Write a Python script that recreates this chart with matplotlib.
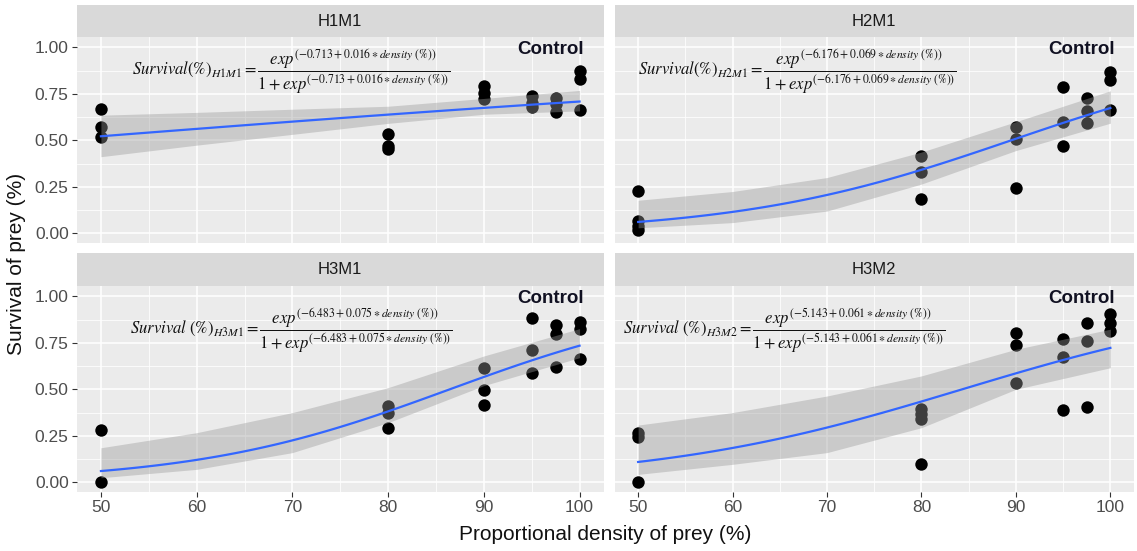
import numpy as np
import matplotlib
matplotlib.use("Agg")
import matplotlib.pyplot as plt

plt.rcParams['font.family'] = ['Liberation Sans', 'DejaVu Sans']
plt.rcParams['mathtext.fontset'] = 'stix'

# ---------------- data ----------------
panels = ["H1M1", "H2M1", "H3M1", "H3M2"]

h1m1_x = [50, 50, 50, 80, 80, 80, 90, 90, 90, 95, 95, 95, 97.5, 97.5, 97.5, 100, 100, 100]
h1m1_y = [0.67, 0.57, 0.52, 0.535, 0.47, 0.455, 0.79, 0.755, 0.72, 0.74, 0.70, 0.68,
          0.73, 0.695, 0.65, 0.87, 0.83, 0.665]

h2m1_x = [50, 50, 50, 50, 80, 80, 80, 90, 90, 90, 95, 95, 95, 97.5, 97.5, 97.5, 100, 100, 100]
h2m1_y = [0.23, 0.065, 0.04, 0.02, 0.414, 0.33, 0.187, 0.57, 0.508, 0.244, 0.788, 0.60, 0.472,
          0.727, 0.66, 0.592, 0.868, 0.825, 0.665]

h3m1_x = [50, 50, 80, 80, 80, 90, 90, 90, 95, 95, 95, 97.5, 97.5, 97.5, 100, 100, 100]
h3m1_y = [0.28, 0.0, 0.41, 0.375, 0.294, 0.616, 0.496, 0.416, 0.882, 0.711, 0.59,
          0.844, 0.796, 0.622, 0.864, 0.823, 0.661]

h3m2_x = [50, 50, 50, 80, 80, 80, 80, 90, 90, 90, 95, 95, 95, 97.5, 97.5, 97.5, 100, 100, 100]
h3m2_y = [0.267, 0.245, 0.0, 0.392, 0.366, 0.339, 0.097, 0.805, 0.737, 0.532, 0.772, 0.674, 0.389,
          0.858, 0.76, 0.407, 0.903, 0.858, 0.814]

# fitted logistic coefficients (as printed in the equations)
intercepts = [-0.713, -6.176, -6.483, -5.143]
slopes = [0.016, 0.069, 0.075, 0.061]

# confidence ribbon
ribbon_x = [50, 60, 70, 80, 90, 100]
h1m1_lo = [0.412, 0.474, 0.532, 0.591, 0.640, 0.658]
h1m1_hi = [0.635, 0.650, 0.667, 0.683, 0.725, 0.768]
h2m1_lo = [0.030, 0.058, 0.120, 0.265, 0.445, 0.592]
h2m1_hi = [0.178, 0.225, 0.300, 0.437, 0.600, 0.766]
h3m1_lo = [0.025, 0.070, 0.160, 0.321, 0.520, 0.670]
h3m1_hi = [0.186, 0.267, 0.375, 0.509, 0.679, 0.826]
h3m2_lo = [0.043, 0.097, 0.160, 0.294, 0.500, 0.616]
h3m2_hi = [0.308, 0.375, 0.464, 0.572, 0.715, 0.823]

equations = [
    r"$Survival(\%)_{H1M1}=\dfrac{exp^{(-0.713+0.016\ast density\ (\%))}}{1+exp^{(-0.713+0.016\ast density\ (\%))}}$",
    r"$Survival(\%)_{H2M1}=\dfrac{exp^{(-6.176+0.069\ast density\ (\%))}}{1+exp^{(-6.176+0.069\ast density\ (\%))}}$",
    r"$Survival\ (\%)_{H3M1}=\dfrac{exp^{(-6.483+0.075\ast density\ (\%))}}{1+exp^{(-6.483+0.075\ast density\ (\%))}}$",
    r"$Survival\ (\%)_{H3M2}=\dfrac{exp^{(-5.143+0.061\ast density\ (\%))}}{1+exp^{(-5.143+0.061\ast density\ (\%))}}$",
]
eq_pos = [(69.9, 0.87), (66.9, 0.87), (69.9, 0.815), (65.5, 0.815)]

xticks = [50, 60, 70, 80, 90, 100]
yticks = [0.0, 0.25, 0.5, 0.75, 1.0]
ytick_labels = ["0.00", "0.25", "0.50", "0.75", "1.00"]

points_x = [h1m1_x, h2m1_x, h3m1_x, h3m2_x]
points_y = [h1m1_y, h2m1_y, h3m1_y, h3m2_y]
ribbons = [(h1m1_lo, h1m1_hi), (h2m1_lo, h2m1_hi), (h3m1_lo, h3m1_hi), (h3m2_lo, h3m2_hi)]

# ---------------- figure ----------------
W, H = 1137, 551
fig = plt.figure(figsize=(W / 100, H / 100), dpi=100)

def px_axes(x0, y0, x1, y1):
    return fig.add_axes([x0 / W, 1 - y1 / H, (x1 - x0) / W, (y1 - y0) / H])

cols = [(77, 603.5), (614.5, 1134)]
rows = [(37, 242.7), (286, 491.7)]
strip_rows = [(5, 37), (253.3, 286)]

panel_bg = "#EBEBEB"
strip_bg = "#D9D9D9"
tick_col = "#4D4D4D"

for i, name in enumerate(panels):
    r, c = divmod(i, 2)
    x0, x1 = cols[c]
    y0, y1 = rows[r]
    ax = px_axes(x0, y0, x1, y1)
    ax.set_facecolor(panel_bg)
    ax.set_xlim(47.5, 102.5)
    ax.set_ylim(-0.05, 1.055)
    ax.set_xticks(xticks)
    ax.set_xticks([55, 65, 75, 85, 95], minor=True)
    ax.set_yticks(yticks)
    ax.set_yticks([0.125, 0.375, 0.625, 0.875], minor=True)
    ax.grid(True, which="major", color="white", lw=1.1, zorder=0)
    ax.grid(True, which="minor", color="white", lw=0.55, zorder=0)
    ax.set_axisbelow(True)
    for s in ax.spines.values():
        s.set_visible(False)
    ax.tick_params(which="minor", length=0)
    ax.tick_params(which="major", length=3.5, width=0.8, color="#333333",
                   labelsize=12.5, labelcolor=tick_col, pad=2.5)
    if c == 0:
        ax.set_yticklabels(ytick_labels)
    else:
        ax.tick_params(axis="y", which="major", left=False, labelleft=False)
    if r == 1:
        ax.set_xticklabels([str(t) for t in xticks])
    else:
        ax.tick_params(axis="x", which="major", bottom=False, labelbottom=False)

    # points
    ax.scatter(points_x[i], points_y[i], s=80, color="black", zorder=2, linewidths=0)
    # ribbon
    lo, hi = ribbons[i]
    ax.fill_between(ribbon_x, lo, hi, color="#999999", alpha=0.4, lw=0, zorder=3)
    # fitted curve
    xs = np.linspace(50, 100, 101)
    eta = intercepts[i] + slopes[i] * xs
    ax.plot(xs, np.exp(eta) / (1 + np.exp(eta)), color="#3366FF", lw=1.6, zorder=4)

    ax.text(97, 0.99, "Control", fontsize=13.5, fontweight="bold", color="#111122",
            ha="center", va="center", zorder=5)
    ex, ey = eq_pos[i]
    ax.text(ex, ey, equations[i], fontsize=12, ha="center", va="center", color="#111111", zorder=5)

    # strip
    sy0, sy1 = strip_rows[r]
    sax = px_axes(x0, sy0, x1, sy1)
    sax.set_facecolor(strip_bg)
    sax.set_xticks([]); sax.set_yticks([])
    for s in sax.spines.values():
        s.set_visible(False)
    sax.text(0.5, 0.5, name, transform=sax.transAxes, ha="center", va="center",
             fontsize=12, color="#1A1A1A")

fig.text(605 / W, 1 - 535 / H, "Proportional density of prey (%)", ha="center", va="center",
         fontsize=15, color="#111111")
fig.text(17 / W, 1 - 264 / H, "Survival of prey (%)", ha="center", va="center", rotation=90,
         fontsize=15, color="#111111")

fig.savefig("out.png", dpi=100, facecolor="white")
